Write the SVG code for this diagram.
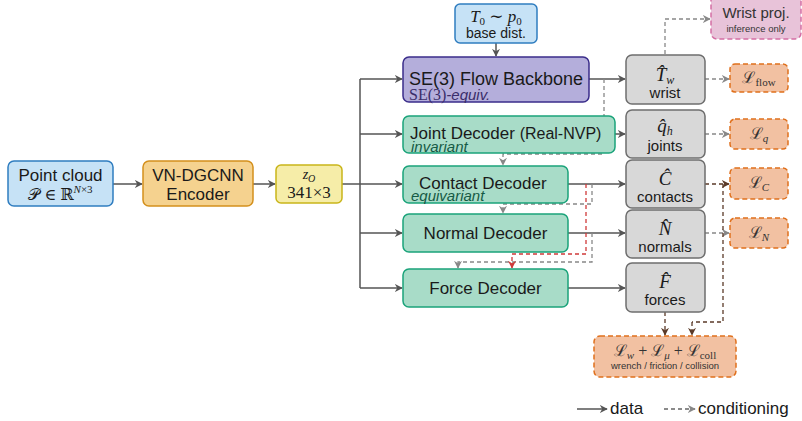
<svg xmlns="http://www.w3.org/2000/svg" width="802" height="421" viewBox="0 0 802 421">
<defs>
<marker id="ah" viewBox="0 0 10 10" refX="9" refY="5" markerWidth="8" markerHeight="8" markerUnits="userSpaceOnUse" orient="auto"><path d="M0,0 L10,5 L0,10 L3,5 z" fill="#555"/></marker>
<marker id="ahg" viewBox="0 0 10 10" refX="9" refY="5" markerWidth="8" markerHeight="8" markerUnits="userSpaceOnUse" orient="auto"><path d="M0,0 L10,5 L0,10 L3,5 z" fill="#888"/></marker>
<marker id="ahr" viewBox="0 0 10 10" refX="9" refY="5" markerWidth="8" markerHeight="8" markerUnits="userSpaceOnUse" orient="auto"><path d="M0,0 L10,5 L0,10 L3,5 z" fill="#d03a3a"/></marker>
<marker id="ahb" viewBox="0 0 10 10" refX="9" refY="5" markerWidth="8" markerHeight="8" markerUnits="userSpaceOnUse" orient="auto"><path d="M0,0 L10,5 L0,10 L3,5 z" fill="#5b3a28"/></marker>
</defs>
<style>
.s{font-family:"Liberation Sans",Arial,sans-serif;fill:#1a1a1a}
.m{font-family:"Liberation Serif","DejaVu Serif",serif;fill:#1a1a1a}
.cal{font-family:"DejaVu Serif",serif;font-style:normal}
.i{font-style:italic}
.blue{fill:#c6e2f6;stroke:#2f7dc0;stroke-width:1.5}
.enc{fill:#f5d28f;stroke:#d4901c;stroke-width:1.5}
.lat{fill:#f6eda8;stroke:#c9b51a;stroke-width:1.5}
.se3{fill:#b4aedb;stroke:#3a2d8a;stroke-width:1.5}
.dec{fill:#a8dcc8;stroke:#1aa37a;stroke-width:1.5}
.out{fill:#d8d8d8;stroke:#6e6e6e;stroke-width:1.5}
.loss{fill:#f2c1a2;stroke:#e0701c;stroke-width:1.5;stroke-dasharray:5 3}
.proj{fill:#e8c3d9;stroke:#d46fa4;stroke-width:1.5;stroke-dasharray:5 3}
.d{fill:none;stroke:#555;stroke-width:1.5;marker-end:url(#ah)}
.dl{fill:none;stroke:#555;stroke-width:1.5}
.c{fill:none;stroke:#888;stroke-width:1.3;stroke-dasharray:4 3;marker-end:url(#ahg)}
.cr{fill:none;stroke:#d03a3a;stroke-width:1.3;stroke-dasharray:4 3;marker-end:url(#ahr)}
.cb{fill:none;stroke:#5b3a28;stroke-width:1.3;stroke-dasharray:4 3;marker-end:url(#ahb)}
.cbl{fill:none;stroke:#5b3a28;stroke-width:1.3;stroke-dasharray:4 3}
</style>

<g id="connectors">
<path class="d" d="M113,184 H142"/>
<path class="d" d="M253,184 H275"/>
<path class="d" d="M342,184 H402"/>
<path class="dl" d="M360,79 V288"/>
<path class="d" d="M360,79 H402"/>
<path class="d" d="M360,134 H402"/>
<path class="d" d="M360,233 H402"/>
<path class="d" d="M360,288 H402"/>
<path class="d" d="M496,43 V56"/>
<path class="d" d="M589,79 H625"/>
<path class="d" d="M615,134 H625"/>
<path class="d" d="M568,184 H625"/>
<path class="d" d="M568,233 H625"/>
<path class="d" d="M568,288 H625"/>
<path class="c" d="M665,54 V19 H710"/>
<path class="c" d="M705,79 H729"/>
<path class="c" d="M705,134 H729"/>
<path class="c" d="M705,233 H729"/>
<path class="c" d="M604,79 V154 H503 V165"/>
<path class="c" d="M592,184 V204 H503 V213"/>
<path class="c" d="M592,233 V262 H458 V268"/>
<path class="cr" d="M586,184 V254 H512 V268"/>
<path class="cb" d="M705,184 H729"/>
<path class="cbl" d="M723,184 V322 H692"/>
<path class="cb" d="M692,322 V335"/>
<path class="cb" d="M665,312 V335"/>
<text class="s" x="501" y="250" font-size="9" text-anchor="middle" style="fill:#d05050">sg</text>
</g>

<g id="pointcloud">
<rect class="blue" x="8" y="161" width="105" height="45" rx="6"/>
<text class="s" x="60.5" y="181" font-size="17" text-anchor="middle">Point cloud</text>
<text class="m" x="60.5" y="200" font-size="16" text-anchor="middle"><tspan class="cal">𝒫</tspan> ∈ ℝ<tspan font-size="11" dy="-7" class="i">N</tspan><tspan font-size="11">×3</tspan></text>
</g>

<g id="encoder">
<rect class="enc" x="143" y="161" width="110" height="45" rx="6"/>
<text class="s" x="198" y="181" font-size="17" text-anchor="middle">VN-DGCNN</text>
<text class="s" x="198" y="200" font-size="17" text-anchor="middle">Encoder</text>
</g>

<g id="latent">
<rect class="lat" x="276" y="165" width="66" height="38" rx="5"/>
<text class="m" x="309" y="179" font-size="14" text-anchor="middle"><tspan class="i">z</tspan><tspan class="i" font-size="10" dy="3">O</tspan></text>
<text class="m" x="309" y="198" font-size="17" text-anchor="middle">341×3</text>
</g>

<g id="basedist">
<rect class="blue" x="455" y="4" width="82" height="39" rx="5"/>
<text class="m" x="496" y="22" font-size="17" text-anchor="middle"><tspan class="i">T</tspan><tspan font-size="11" dy="3">0</tspan><tspan dy="-3"> ∼ </tspan><tspan class="i">p</tspan><tspan font-size="11" dy="3">0</tspan></text>
<text class="s" x="496" y="38" font-size="14" text-anchor="middle">base dist.</text>
</g>

<g id="backbone">
<rect class="se3" x="403" y="57" width="186" height="45" rx="6"/>
<text class="s" x="409" y="85" font-size="18">SE(3) Flow Backbone</text>
<text x="409" y="100" font-size="16" style="fill:#3a2d6a"><tspan class="m" style="fill:#3a2d6a">SE(3)</tspan><tspan class="s i" font-size="15" style="fill:#3a2d6a">-equiv.</tspan></text>
</g>

<g id="joint">
<rect class="dec" x="403" y="116" width="212" height="37" rx="6"/>
<text class="s" x="410" y="139" font-size="17">Joint Decoder <tspan font-size="16">(Real-NVP)</tspan></text>
<text class="s i" x="411" y="152" font-size="15" style="fill:#155a45">invariant</text>
</g>

<g id="contact">
<rect class="dec" x="403" y="166" width="165" height="37" rx="6"/>
<text class="s" x="419" y="189" font-size="17">Contact Decoder</text>
<text class="s i" x="411" y="201" font-size="15" style="fill:#155a45">equivariant</text>
</g>

<g id="normal">
<rect class="dec" x="403" y="214" width="165" height="38" rx="6"/>
<text class="s" x="485.5" y="239" font-size="17" text-anchor="middle">Normal Decoder</text>
</g>

<g id="force">
<rect class="dec" x="403" y="269" width="165" height="38" rx="6"/>
<text class="s" x="485.5" y="294" font-size="17" text-anchor="middle">Force Decoder</text>
</g>

<g id="out-wrist">
<rect class="out" x="626" y="55" width="79" height="49" rx="6"/>
<text class="m" x="665" y="81" font-size="19" text-anchor="middle"><tspan class="i">T̂</tspan><tspan class="i" font-size="12" dy="3">w</tspan></text>
<text class="s" x="665" y="98" font-size="15" text-anchor="middle">wrist</text>
</g>

<g id="out-joints">
<rect class="out" x="626" y="110" width="79" height="48" rx="6"/>
<text class="m" x="665" y="132" font-size="19" text-anchor="middle"><tspan class="i">q̂</tspan><tspan class="i" font-size="12" dy="3">h</tspan></text>
<text class="s" x="665" y="151" font-size="15" text-anchor="middle">joints</text>
</g>

<g id="out-contacts">
<rect class="out" x="626" y="160" width="79" height="48" rx="6"/>
<text class="m i" x="665" y="185" font-size="19" text-anchor="middle">Ĉ</text>
<text class="s" x="665" y="202" font-size="15" text-anchor="middle">contacts</text>
</g>

<g id="out-normals">
<rect class="out" x="626" y="210" width="79" height="48" rx="6"/>
<text class="m i" x="665" y="235" font-size="19" text-anchor="middle">N̂</text>
<text class="s" x="665" y="252" font-size="15" text-anchor="middle">normals</text>
</g>

<g id="out-forces">
<rect class="out" x="626" y="263" width="79" height="49" rx="6"/>
<text class="m i" x="665" y="288" font-size="19" text-anchor="middle">F̂</text>
<text class="s" x="665" y="305" font-size="15" text-anchor="middle">forces</text>
</g>

<g id="wristproj">
<rect class="proj" x="711" y="-6" width="90" height="45" rx="6"/>
<text class="s" x="756" y="18" font-size="15" text-anchor="middle" style="fill:#333">Wrist proj.</text>
<text class="s" x="756" y="32" font-size="9.5" text-anchor="middle" style="fill:#333">inference only</text>
</g>

<g id="loss-flow">
<rect class="loss" x="730" y="64" width="58" height="28" rx="5"/>
<text class="m" x="759" y="83" font-size="16" text-anchor="middle" style="fill:#333"><tspan class="cal">ℒ</tspan><tspan font-size="11" dy="3">flow</tspan></text>
</g>

<g id="loss-q">
<rect class="loss" x="730" y="119" width="58" height="30" rx="5"/>
<text class="m" x="759" y="139" font-size="16" text-anchor="middle" style="fill:#333"><tspan class="cal">ℒ</tspan><tspan class="i" font-size="11" dy="3">q</tspan></text>
</g>

<g id="loss-c">
<rect class="loss" x="730" y="168" width="58" height="31" rx="5"/>
<text class="m" x="759" y="188" font-size="16" text-anchor="middle" style="fill:#333"><tspan class="cal">ℒ</tspan><tspan class="i" font-size="11" dy="3">C</tspan></text>
</g>

<g id="loss-n">
<rect class="loss" x="730" y="218" width="58" height="30" rx="5"/>
<text class="m" x="759" y="238" font-size="16" text-anchor="middle" style="fill:#333"><tspan class="cal">ℒ</tspan><tspan class="i" font-size="11" dy="3">N</tspan></text>
</g>

<g id="loss-phys">
<rect class="loss" x="594" y="336" width="142" height="41" rx="6"/>
<text class="m" x="665" y="356" font-size="16" text-anchor="middle" style="fill:#333"><tspan class="cal">ℒ</tspan><tspan class="i" font-size="11" dy="3">w</tspan><tspan dy="-3"> + </tspan><tspan class="cal">ℒ</tspan><tspan class="i" font-size="11" dy="3">μ</tspan><tspan dy="-3"> + </tspan><tspan class="cal">ℒ</tspan><tspan font-size="11" dy="3">coll</tspan></text>
<text class="s" x="665" y="369" font-size="9.5" text-anchor="middle" style="fill:#333">wrench / friction / collision</text>
</g>

<g id="legend">
<path class="d" d="M577,409 H607"/>
<text class="s" x="610" y="414" font-size="17">data</text>
<path class="c" d="M664,409 H695" style="stroke:#666"/>
<text class="s" x="698" y="414" font-size="17">conditioning</text>
</g>
</svg>
